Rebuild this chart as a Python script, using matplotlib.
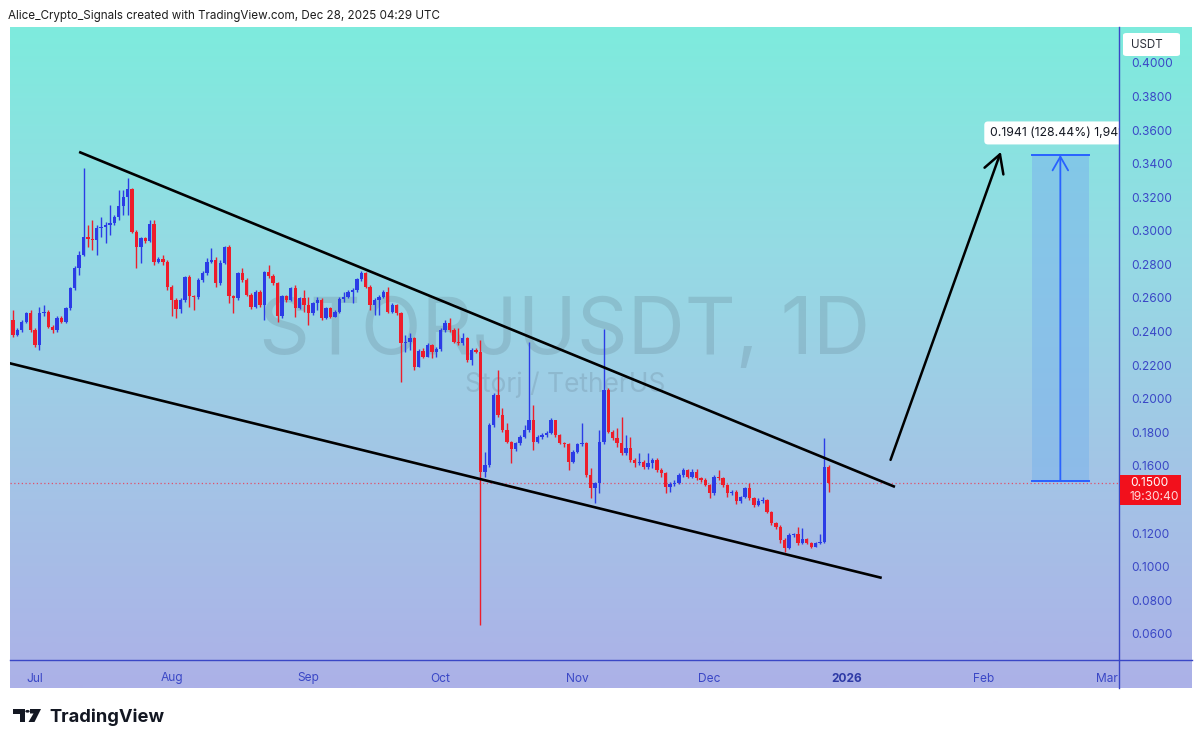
import numpy as np
import pandas as pd
import matplotlib
matplotlib.use('Agg')
import matplotlib.pyplot as plt
from matplotlib.colors import LinearSegmentedColormap
from matplotlib.patches import Rectangle, FancyBboxPatch, Polygon, Circle
from matplotlib.lines import Line2D

plt.rcParams['font.family'] = ['Inter', 'DejaVu Sans']

# STORJ/USDT daily candles, 2025-06-26 .. 2025-12-28
first_open = 0.2470
close = [
    0.2380, 0.2410, 0.2460, 0.2509, 0.2410, 0.2321, 0.2509, 0.2519, 0.2430, 0.2410,
    0.2480, 0.2460, 0.2539, 0.2658, 0.2777, 0.2857, 0.2962, 0.2950, 0.2946, 0.3016,
    0.3025, 0.3033, 0.3045, 0.3085, 0.3149, 0.3204, 0.3248, 0.2996, 0.2906, 0.2956,
    0.2942, 0.3041, 0.2817, 0.2831, 0.2817, 0.2668, 0.2589, 0.2533, 0.2589, 0.2724,
    0.2609, 0.2605, 0.2708, 0.2748, 0.2813, 0.2827, 0.2688, 0.2811, 0.2902, 0.2609,
    0.2599, 0.2748, 0.2708, 0.2618, 0.2549, 0.2638, 0.2559, 0.2752, 0.2732, 0.2688,
    0.2490, 0.2609,
    0.2589, 0.2658, 0.2539, 0.2599, 0.2559, 0.2509, 0.2569, 0.2589, 0.2479, 0.2539,
    0.2489, 0.2519, 0.2593, 0.2608, 0.2638, 0.2648, 0.2712, 0.2751, 0.2668, 0.2559,
    0.2589, 0.2608, 0.2638, 0.2519, 0.2559, 0.2509, 0.2331, 0.2340, 0.2360, 0.2192,
    0.2287, 0.2251, 0.2321, 0.2281, 0.2295, 0.2410, 0.2450, 0.2410, 0.2340, 0.2331,
    0.2360,
    0.2231, 0.2291, 0.2279, 0.1566, 0.1606, 0.1844, 0.2023, 0.1904, 0.1814, 0.1745,
    0.1699, 0.1735, 0.1775, 0.1814, 0.1874, 0.1745, 0.1775, 0.1784, 0.1798, 0.1874,
    0.1784, 0.1739, 0.1731, 0.1626, 0.1685, 0.1731, 0.1735, 0.1546, 0.1467, 0.1497,
    0.1745,
    0.2052, 0.1804, 0.1765, 0.1735, 0.1675, 0.1705, 0.1636, 0.1616, 0.1626, 0.1592,
    0.1616, 0.1636, 0.1576, 0.1556, 0.1477, 0.1493, 0.1501, 0.1546, 0.1576, 0.1536,
    0.1566, 0.1527, 0.1517, 0.1487, 0.1437, 0.1536, 0.1527, 0.1487, 0.1437, 0.1447,
    0.1388, 0.1413, 0.1467, 0.1407, 0.1368, 0.1388, 0.1397, 0.1328, 0.1258, 0.1239,
    0.1159, 0.1110, 0.1189, 0.1195, 0.1139, 0.1163, 0.1143, 0.1119, 0.1139, 0.1149,
    0.1596, 0.1500,
]
high = [
    0.2529, 0.2420, 0.2470, 0.2519, 0.2529, 0.2420, 0.2549, 0.2559, 0.2529, 0.2440,
    0.2490, 0.2490, 0.2549, 0.2668, 0.2791, 0.2877, 0.3373, 0.3035, 0.3065, 0.3035,
    0.3085, 0.3055, 0.3154, 0.3095, 0.3244, 0.3244, 0.3313, 0.3254, 0.3006, 0.2966,
    0.2962, 0.3065, 0.3065, 0.2847, 0.2857, 0.2827, 0.2678, 0.2599, 0.2599, 0.2732,
    0.2738, 0.2618, 0.2718, 0.2763, 0.2837, 0.2896, 0.2843, 0.2827, 0.2910, 0.2916,
    0.2618, 0.2757, 0.2777, 0.2718, 0.2628, 0.2648, 0.2648, 0.2763, 0.2797, 0.2744,
    0.2698, 0.2618,
    0.2618, 0.2668, 0.2678, 0.2608, 0.2648, 0.2608, 0.2579, 0.2608, 0.2599, 0.2549,
    0.2549, 0.2529, 0.2608, 0.2638, 0.2648, 0.2658, 0.2718, 0.2761, 0.2757, 0.2678,
    0.2599, 0.2618, 0.2648, 0.2668, 0.2569, 0.2565, 0.2519, 0.2380, 0.2390, 0.2366,
    0.2295, 0.2301, 0.2331, 0.2327, 0.2307, 0.2420, 0.2470, 0.2480, 0.2420, 0.2420,
    0.2390,
    0.2370, 0.2300, 0.2300, 0.2350, 0.1685, 0.1854, 0.2033, 0.2172, 0.1943, 0.1854,
    0.1751, 0.1745, 0.1785, 0.1844, 0.2340, 0.1963, 0.1785, 0.1798, 0.1810, 0.1884,
    0.1874, 0.1790, 0.1745, 0.1739, 0.1695, 0.1739, 0.1854, 0.1745, 0.1586, 0.1507,
    0.1814,
    0.2414, 0.2062, 0.1814, 0.1824, 0.1894, 0.1784, 0.1775, 0.1646, 0.1679, 0.1636,
    0.1675, 0.1646, 0.1646, 0.1586, 0.1566, 0.1507, 0.1517, 0.1556, 0.1586, 0.1580,
    0.1580, 0.1580, 0.1533, 0.1525, 0.1493, 0.1546, 0.1576, 0.1536, 0.1493, 0.1457,
    0.1457, 0.1421, 0.1477, 0.1497, 0.1413, 0.1407, 0.1413, 0.1401, 0.1334, 0.1268,
    0.1249, 0.1169, 0.1199, 0.1203, 0.1239, 0.1229, 0.1169, 0.1149, 0.1147, 0.1195,
    0.1765, 0.1606,
]
low = [
    0.2370, 0.2374, 0.2400, 0.2454, 0.2400, 0.2311, 0.2291, 0.2490, 0.2420, 0.2394,
    0.2400, 0.2450, 0.2450, 0.2529, 0.2648, 0.2738, 0.2851, 0.2906, 0.2887, 0.2857,
    0.2966, 0.2930, 0.2976, 0.3035, 0.3065, 0.3095, 0.3095, 0.2986, 0.2777, 0.2807,
    0.2926, 0.2936, 0.2797, 0.2807, 0.2797, 0.2648, 0.2490, 0.2480, 0.2509, 0.2579,
    0.2549, 0.2529, 0.2593, 0.2698, 0.2738, 0.2807, 0.2668, 0.2678, 0.2803, 0.2569,
    0.2509, 0.2589, 0.2698, 0.2609, 0.2533, 0.2539, 0.2549, 0.2470, 0.2718, 0.2678,
    0.2460, 0.2480,
    0.2579, 0.2585, 0.2489, 0.2533, 0.2519, 0.2440, 0.2499, 0.2529, 0.2469, 0.2473,
    0.2479, 0.2485, 0.2509, 0.2579, 0.2599, 0.2569, 0.2638, 0.2704, 0.2658, 0.2529,
    0.2499, 0.2499, 0.2599, 0.2509, 0.2509, 0.2499, 0.2102, 0.2281, 0.2291, 0.2172,
    0.2188, 0.2241, 0.2247, 0.2241, 0.2251, 0.2287, 0.2400, 0.2400, 0.2331, 0.2321,
    0.2321,
    0.2221, 0.2201, 0.2271, 0.0653, 0.1536, 0.1596, 0.1834, 0.1894, 0.1804, 0.1735,
    0.1616, 0.1691, 0.1725, 0.1765, 0.1804, 0.1695, 0.1735, 0.1759, 0.1775, 0.1790,
    0.1775, 0.1731, 0.1715, 0.1576, 0.1616, 0.1675, 0.1719, 0.1536, 0.1407, 0.1378,
    0.1437,
    0.1731, 0.1794, 0.1755, 0.1715, 0.1665, 0.1665, 0.1626, 0.1592, 0.1606, 0.1580,
    0.1584, 0.1586, 0.1566, 0.1536, 0.1437, 0.1447, 0.1481, 0.1493, 0.1536, 0.1527,
    0.1527, 0.1517, 0.1507, 0.1481, 0.1407, 0.1427, 0.1517, 0.1477, 0.1417, 0.1427,
    0.1374, 0.1382, 0.1407, 0.1397, 0.1354, 0.1362, 0.1382, 0.1318, 0.1249, 0.1223,
    0.1143, 0.1090, 0.1104, 0.1179, 0.1129, 0.1135, 0.1135, 0.1110, 0.1116, 0.1135,
    0.1139, 0.1447,
]

# drawings (date, price)
upper_line = [('2025-07-11', 0.3470), ('2026-01-12', 0.1475)]
lower_line = [('2025-06-25', 0.2213), ('2026-01-09', 0.0933)]
big_arrow = [('2026-01-11', 0.1636), ('2026-02-05', 0.3470)]
range_start, range_end = '2026-02-12', '2026-02-25'
range_low, range_high = 0.1511, 0.3452
range_label = '0.1941 (128.44%) 1,941'
last_price = 0.1500
countdown = '19:30:40'

# 0.1400 sits under the last-price tag, so it is not shown
price_ticks = [0.06, 0.08, 0.10, 0.12, 0.16, 0.18, 0.20, 0.22, 0.24,
               0.26, 0.28, 0.30, 0.32, 0.34, 0.36, 0.38, 0.40]
month_starts = ['2025-07-01', '2025-08-01', '2025-09-01', '2025-10-01', '2025-11-01',
                '2025-12-01', '2026-01-01', '2026-02-01', '2026-03-01']
month_labels = ['Jul', 'Aug', 'Sep', 'Oct', 'Nov', 'Dec', '2026', 'Feb', 'Mar']

t0 = pd.Timestamp('2025-07-01')
def day(s):
    return (pd.Timestamp(s) - t0).days

dates = pd.date_range('2025-06-26', periods=len(close), freq='D')
x = np.array((dates - t0).days, dtype=float)
c = np.array(close)
o = np.array([first_open] + close[:-1])
h = np.array(high)
l = np.array(low)

BLUE = '#2b3ce6'
RED = '#ee1d2a'
AXC = '#3a47c6'

W, H = 1200, 747
def fx(px):
    return px / W
def fy(py):
    return 1 - py / H

fig = plt.figure(figsize=(12, 7.47), dpi=100, facecolor='white')

# gradient background of the whole chart pane
bg = fig.add_axes([fx(10), fy(688), fx(1192) - fx(10), fy(27) - fy(688)], zorder=-5)
cmap = LinearSegmentedColormap.from_list('tv', ['#7eebdd', '#95dbe4', '#a3c5e6', '#acb1e8'])
bg.imshow(np.linspace(0, 1, 300).reshape(-1, 1), aspect='auto', cmap=cmap,
          extent=[0, 1, 0, 1], origin='upper')
bg.set_axis_off()

ax = fig.add_axes([fx(10), fy(660), fx(1119) - fx(10), fy(27) - fy(660)])
ax.patch.set_alpha(0)
ax.set_xlim(-5.67, 245.8)
ax.set_ylim(0.0444, 0.4214)
for s in ax.spines.values():
    s.set_visible(False)

# watermark
ax.text(fx(565), fy(333), 'STORJUSDT, 1D', transform=fig.transFigure, ha='center',
        va='center', fontsize=57, color='#3c4652', alpha=0.15, zorder=0.5)
ax.text(fx(565), fy(385), 'Storj / TetherUS', transform=fig.transFigure, ha='center',
        va='center', fontsize=19, color='#3c4652', alpha=0.15, zorder=0.5)

# candles
up = c >= o
cols = np.where(up, BLUE, RED)
ax.vlines(x, l, h, colors=cols, lw=1.0, zorder=2)
body = np.maximum(np.abs(c - o), 0.0008)
ax.bar(x, body, bottom=np.minimum(o, c), width=0.76, color=cols, zorder=3, linewidth=0)

# last price line
ax.axhline(last_price, color='#e0506a', lw=0.9, ls=(0, (1, 2)), zorder=1.5)

# wedge lines
for ln in (upper_line, lower_line):
    ax.plot([day(ln[0][0]), day(ln[1][0])], [ln[0][1], ln[1][1]], color='black',
            lw=1.9, solid_capstyle='butt', zorder=4)
ax.annotate('', xy=(day(big_arrow[1][0]), big_arrow[1][1]),
            xytext=(day(big_arrow[0][0]), big_arrow[0][1]),
            arrowprops=dict(arrowstyle='->,head_length=0.8,head_width=0.45', lw=1.8,
                            color='black', shrinkA=0, shrinkB=0, mutation_scale=16),
            zorder=4)

# price range measure
xs, xe = day(range_start), day(range_end)
ax.add_patch(Rectangle((xs, range_low), xe - xs, range_high - range_low,
                       facecolor='#7bb4ec', alpha=0.55, edgecolor='none', zorder=2))
ax.plot([xs, xe], [range_high, range_high], color='#2962ff', lw=1.4, zorder=4)
ax.plot([xs, xe], [range_low, range_low], color='#2962ff', lw=1.4, zorder=4)
xm = (xs + xe) / 2
ax.annotate('', xy=(xm, range_high), xytext=(xm, range_low),
            arrowprops=dict(arrowstyle='->,head_length=0.7,head_width=0.4', lw=1.3,
                            color='#2962ff', shrinkA=0, shrinkB=0, mutation_scale=14),
            zorder=4)
ax.text(216.5, 0.3583, range_label, fontsize=8.8, color='#131722', va='center', ha='left',
        bbox=dict(boxstyle='round,pad=0.45,rounding_size=0.3', fc='white', ec='none'),
        clip_on=True, zorder=6)

# axes ticks
ax.yaxis.tick_right()
ax.set_yticks(price_ticks)
ax.set_yticklabels([f'{v:.4f}' for v in price_ticks])
ax.tick_params(axis='y', length=0, pad=9, labelsize=8.6, colors=AXC)
ax.set_xticks([day(m) for m in month_starts])
ax.set_xticklabels(month_labels)
ax.tick_params(axis='x', length=0, pad=9, labelsize=8.6, colors=AXC)
for t in ax.get_xticklabels():
    if t.get_text() == '2026':
        t.set_fontweight('bold')
        t.set_color('#2e3aa6')

# pane separators
fig.add_artist(Line2D([fx(1119), fx(1119)], [fy(27), fy(688)], color=AXC, lw=1.0))
fig.add_artist(Line2D([fx(10), fx(1192)], [fy(660), fy(660)], color=AXC, lw=1.0))

# currency box and last price tag
fig.add_artist(FancyBboxPatch((fx(1123), fy(56)), fx(1180) - fx(1123), fy(33) - fy(56),
                              boxstyle='round,pad=0,rounding_size=0.003',
                              fc='white', ec='none', zorder=5))
fig.text(fx(1131), fy(44.5), 'USDT', fontsize=8.3, color='#2a2e39', va='center', zorder=6)
fig.add_artist(Rectangle((fx(1120), fy(505)), fx(1181) - fx(1120), fy(475) - fy(505),
                         fc='#f2101c', ec='none', zorder=5))
fig.text(fx(1130), fy(482.5), f'{last_price:.4f}', fontsize=8.6, color='white',
         va='center', zorder=6)
fig.text(fx(1130), fy(497), countdown, fontsize=8.6, color='#ffd8da', va='center', zorder=6)

# header and footer
fig.text(fx(8), fy(16), 'Alice_Crypto_Signals created with TradingView.com, Dec 28, 2025 04:29 UTC',
         fontsize=8.4, color='#1e1e1e', va='center')
logo = [
    Polygon([(fx(12.5), fy(709)), (fx(24.5), fy(709)), (fx(24.5), fy(722)),
             (fx(19.5), fy(722)), (fx(19.5), fy(713.5)), (fx(12.5), fy(713.5))],
            closed=True, fc='#131722', ec='none'),
    Circle((fx(27.5), fy(711.3)), 2.2 / W, fc='#131722', ec='none'),
    Polygon([(fx(30), fy(709)), (fx(41), fy(709)), (fx(34.5), fy(722)), (fx(28.5), fy(722)),
             (fx(33.5), fy(713.5)), (fx(30), fy(713.5))],
            closed=True, fc='#131722', ec='none'),
]
for p in logo:
    fig.add_artist(p)
fig.text(fx(49), fy(717), 'TradingView', fontsize=13.2, fontweight='bold',
         color='#131722', va='center')

fig.savefig('out.png', dpi=100, facecolor='white')
